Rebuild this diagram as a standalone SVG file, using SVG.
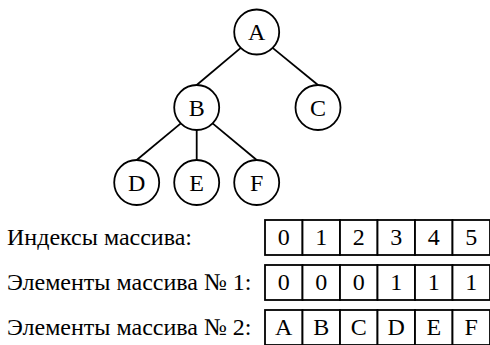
<svg xmlns="http://www.w3.org/2000/svg" width="490" height="345" viewBox="0 0 490 345">
  <defs>
    <!-- shared cell size for the array rows -->
    <rect id="cell" width="37.5" height="35" fill="#fff" stroke="#000" stroke-width="1.8"/>
  </defs>

  <!-- tree edges -->
  <g id="edges" stroke="#000" stroke-width="1.8">
    <line x1="240.8" y1="47.9" x2="196.7" y2="85"/>
    <line x1="272.6" y1="47.9" x2="318" y2="85"/>
    <line x1="180.8" y1="123.4" x2="136.7" y2="160"/>
    <line x1="196.7" y1="130" x2="196.7" y2="160"/>
    <line x1="212.6" y1="123.4" x2="256.7" y2="160"/>
  </g>

  <!-- tree nodes -->
  <g fill="#fff" stroke="#000" stroke-width="1.8">
    <g id="node-A"><circle cx="256.7" cy="32" r="22.5"/></g>
    <g id="node-B"><circle cx="196.7" cy="107.5" r="22.5"/></g>
    <g id="node-C"><circle cx="318" cy="107.5" r="22.5"/></g>
    <g id="node-D"><circle cx="136.7" cy="182.5" r="22.5"/></g>
    <g id="node-E"><circle cx="196.7" cy="182.5" r="22.5"/></g>
    <g id="node-F"><circle cx="256.7" cy="182.5" r="22.5"/></g>
  </g>
  <g id="node-labels" fill="#000" font-family="Times New Roman, Liberation Serif, serif" font-size="24" text-anchor="middle">
    <text x="256.7" y="40">A</text>
    <text x="196.7" y="115.5">B</text>
    <text x="318" y="115.5">C</text>
    <text x="136.7" y="190.5">D</text>
    <text x="196.7" y="190.5">E</text>
    <text x="256.7" y="190.5">F</text>
  </g>

  <!-- row labels -->
  <g id="labels" fill="#000" font-family="Times New Roman, Liberation Serif, serif" font-size="24">
    <text x="7" y="245">Индексы массива:</text>
    <text x="7" y="290">Элементы массива № 1:</text>
    <text x="7" y="335">Элементы массива № 2:</text>
  </g>

  <!-- array cells -->
  <g id="row-index">
    <use href="#cell" x="265" y="220"/><use href="#cell" x="302.5" y="220"/><use href="#cell" x="340" y="220"/>
    <use href="#cell" x="377.5" y="220"/><use href="#cell" x="415" y="220"/><use href="#cell" x="452.5" y="220"/>
  </g>
  <g id="row-array1">
    <use href="#cell" x="265" y="265"/><use href="#cell" x="302.5" y="265"/><use href="#cell" x="340" y="265"/>
    <use href="#cell" x="377.5" y="265"/><use href="#cell" x="415" y="265"/><use href="#cell" x="452.5" y="265"/>
  </g>
  <g id="row-array2">
    <use href="#cell" x="265" y="310"/><use href="#cell" x="302.5" y="310"/><use href="#cell" x="340" y="310"/>
    <use href="#cell" x="377.5" y="310"/><use href="#cell" x="415" y="310"/><use href="#cell" x="452.5" y="310"/>
  </g>

  <!-- cell values -->
  <g id="cell-values" fill="#000" font-family="Times New Roman, Liberation Serif, serif" font-size="24" text-anchor="middle">
    <text x="283.75" y="245">0</text>
    <text x="321.25" y="245">1</text>
    <text x="358.75" y="245">2</text>
    <text x="396.25" y="245">3</text>
    <text x="433.75" y="245">4</text>
    <text x="471.25" y="245">5</text>

    <text x="283.75" y="290">0</text>
    <text x="321.25" y="290">0</text>
    <text x="358.75" y="290">0</text>
    <text x="396.25" y="290">1</text>
    <text x="433.75" y="290">1</text>
    <text x="471.25" y="290">1</text>

    <text x="283.75" y="335">A</text>
    <text x="321.25" y="335">B</text>
    <text x="358.75" y="335">C</text>
    <text x="396.25" y="335">D</text>
    <text x="433.75" y="335">E</text>
    <text x="471.25" y="335">F</text>
  </g>
</svg>
